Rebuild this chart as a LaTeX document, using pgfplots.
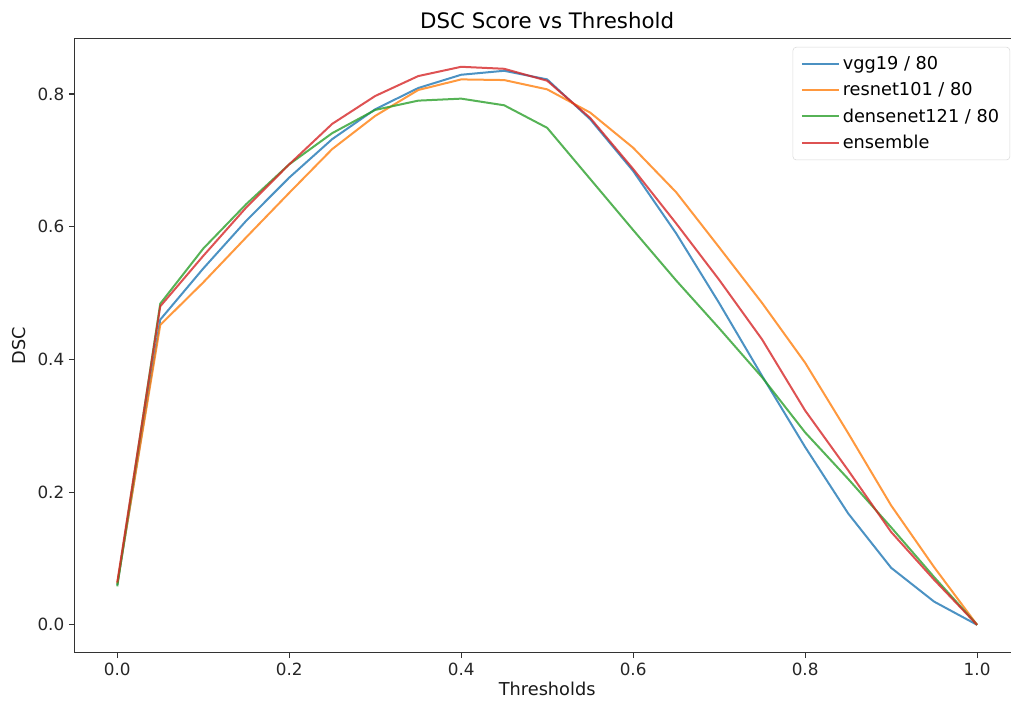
\documentclass[border=0pt]{standalone}
\usepackage{pgfplots}
\pgfplotsset{compat=1.18}
\usepackage{pgfplotstable}
\usepackage{fontspec}
\setmainfont{DejaVu Sans}
\definecolor{tabblue}{HTML}{1F77B4}
\definecolor{taborange}{HTML}{FF7F0E}
\definecolor{tabgreen}{HTML}{2CA02C}
\definecolor{tabred}{HTML}{D62728}
\pgfplotstableread{
x vgg resnet densenet ensemble
0.00 0.060 0.062 0.058 0.064
0.05 0.460 0.452 0.484 0.480
0.10 0.537 0.516 0.567 0.556
0.15 0.609 0.584 0.634 0.629
0.20 0.674 0.651 0.694 0.694
0.25 0.732 0.717 0.741 0.755
0.30 0.777 0.767 0.776 0.797
0.35 0.809 0.806 0.790 0.827
0.40 0.829 0.822 0.793 0.841
0.45 0.835 0.821 0.783 0.838
0.50 0.822 0.807 0.749 0.820
0.55 0.762 0.772 0.672 0.764
0.60 0.684 0.719 0.595 0.687
0.65 0.590 0.652 0.519 0.605
0.70 0.485 0.569 0.447 0.520
0.75 0.375 0.485 0.373 0.430
0.80 0.268 0.395 0.290 0.323
0.85 0.168 0.289 0.220 0.233
0.90 0.086 0.180 0.147 0.140
0.95 0.035 0.087 0.072 0.068
1.00 0.000 0.000 0.000 0.000
}\datatable
\begin{document}
\begin{tikzpicture}
\begin{axis}[
  scale only axis,
  width=709.3pt, height=460.3pt,
  xmin=-0.05, xmax=1.05, ymin=-0.042, ymax=0.883,
  xtick={0,0.2,0.4,0.6,0.8,1.0},
  ytick={0,0.2,0.4,0.6,0.8},
  /pgf/number format/assume math mode=true,
  xticklabel style={/pgf/number format/.cd, fixed, fixed zerofill, precision=1},
  yticklabel style={/pgf/number format/.cd, fixed, fixed zerofill, precision=1},
  tick label style={font=\fontsize{12.6}{14}\selectfont, text=black!85},
  tick align=outside, tick pos=left,
  major tick length=4pt,
  every tick/.style={black!80, line width=0.8pt},
  axis line style={black!80, line width=0.8pt},
  title={DSC Score vs Threshold},
  title style={font=\fontsize{16}{19}\selectfont, yshift=-2pt},
  xlabel={Thresholds}, ylabel={DSC},
  label style={font=\fontsize{13.3}{15}\selectfont, text=black!90},
  xlabel style={yshift=-0.5pt, inner sep=1pt},
  ylabel style={yshift=2pt},
  legend style={at={(rel axis cs:1,1)}, anchor=north east, xshift=-7.5pt, yshift=-6pt,
    draw=black!15, rounded corners=2.5pt, fill=white, fill opacity=0.8, text opacity=1,
    font=\fontsize{13.3}{15}\selectfont, row sep=4.2pt, inner xsep=6pt, inner ysep=5pt},
  legend cell align=left,
  legend image code/.code={\draw[#1] (0cm,0cm) -- (0.98cm,0cm);},
  every axis plot/.append style={line width=1.5pt, opacity=0.8, line join=round},
]
\addplot[tabblue] table[x=x, y=vgg] {\datatable};
\addlegendentry{vgg19 / 80}
\addplot[taborange] table[x=x, y=resnet] {\datatable};
\addlegendentry{resnet101 / 80}
\addplot[tabgreen] table[x=x, y=densenet] {\datatable};
\addlegendentry{densenet121 / 80}
\addplot[tabred] table[x=x, y=ensemble] {\datatable};
\addlegendentry{ensemble}
\end{axis}
\pgfresetboundingbox
\useasboundingbox ([xshift=-55.7pt,yshift=-37pt]current axis.south west) rectangle ([xshift=702.5pt,yshift=489.5pt]current axis.south west);
\end{tikzpicture}
\end{document}
